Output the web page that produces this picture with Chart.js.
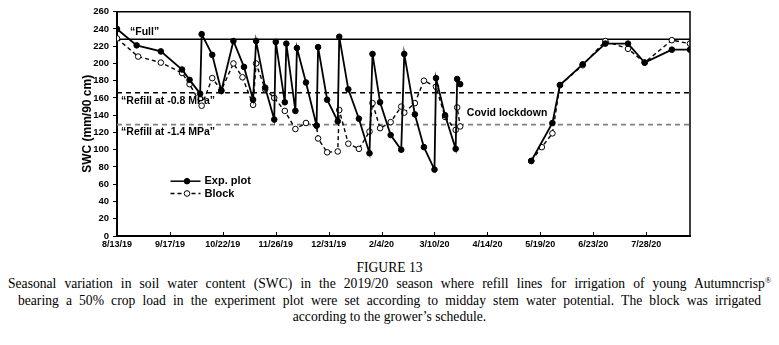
<!DOCTYPE html>
<html><head><meta charset="utf-8">
<script src="https://cdn.jsdelivr.net/npm/chart.js@4.4.0/dist/chart.umd.min.js"></script>
<style>
html,body{margin:0;padding:0;background:#fff;}
#wrap{position:relative;width:779px;height:345px;overflow:hidden;}
canvas{display:block;}
#cap{font-family:"Liberation Serif","Times New Roman",serif;font-size:13.6px;color:#000;line-height:16.4px;margin-top:8px;}
#cap .c{text-align:center;white-space:nowrap;}
#cap .j{text-align:justify;text-align-last:justify;padding:0 8px;white-space:nowrap;}
#cap .j2{text-align:justify;text-align-last:justify;padding:0 18px;white-space:nowrap;}
sup{font-size:8px;line-height:0;vertical-align:5px;}
</style></head><body>
<div id="wrap">
<canvas id="c" width="779" height="252"></canvas>
<div id="cap">
<div class="c">FIGURE 13</div>
<div class="j">Seasonal variation in soil water content (SWC) in the 2019/20 season where refill lines for irrigation of young Autumncrisp<sup>®</sup></div>
<div class="j2">bearing a 50% crop load in the experiment plot were set according to midday stem water potential. The block was irrigated</div>
<div class="c">according to the grower’s schedule.</div>
</div>
</div>
<script>
// ---- data ----
const xTickLabels = ['8/13/19','9/17/19','10/22/19','11/26/19','12/31/19','2/4/20','3/10/20','4/14/20','5/19/20','6/23/20','7/28/20'];
const yTicks = [0,20,40,60,80,100,120,140,160,180,200,220,240,260];
const expDates = ['8/13/19','8/26/19','9/11/19','9/25/19','9/30/19','10/7/19','10/8/19','10/15/19','10/21/19','10/29/19','11/5/19','11/11/19','11/13/19','11/19/19','11/25/19','11/26/19','12/2/19','12/3/19','12/9/19','12/10/19','12/16/19','12/23/19','12/24/19','12/30/19','1/6/20','1/7/20','1/13/20','1/20/20','1/27/20','1/29/20','2/3/20','2/10/20','2/17/20','2/19/20','2/26/20','3/3/20','3/10/20','3/11/20','3/17/20','3/24/20','3/25/20','3/27/20','4/20/20','5/13/20','5/27/20','6/1/20','6/16/20','7/1/20','7/16/20','7/27/20','8/14/20','8/26/20'];
const expSWC = [240,221,214,193,181,165,234,210,168,226,196,158,226,172,135,225,155,223,145,218,178,128,219,158,133,231,170,136,96,211,155,117,100,211,141,103,77,183,140,101,182,176,null,87,131,175,199,223,223,201,216,216];
const blockDates = ['8/13/19','8/27/19','9/11/19','9/25/19','9/30/19','10/8/19','10/15/19','10/21/19','10/29/19','11/4/19','11/11/19','11/13/19','11/19/19','11/25/19','12/2/19','12/9/19','12/16/19','12/23/19','12/24/19','12/30/19','1/6/20','1/7/20','1/13/20','1/20/20','1/27/20','1/29/20','2/3/20','2/10/20','2/17/20','2/19/20','2/26/20','3/3/20','3/11/20','3/17/20','3/24/20','3/25/20','3/27/20','4/20/20','5/13/20','5/20/20','5/27/20','6/1/20','6/16/20','7/1/20','7/16/20','7/27/20','8/14/20','8/26/20'];
const blockSWC = [229,208,201,189,176,151,183,169,200,184,152,200,170,160,145,124,131,128,113,97,98,146,107,101,121,154,125,132,150,143,154,180,173,138,123,149,127,null,87,103,119,175,198,226,217,201,227,223];
const fullLevel = 228, refill08Level = 166, refill14Level = 129;
const xStart = '8/13/19', xEnd = '8/26/20', xStepDays = 35;

// ---- helpers ----
function toDay(s){const [m,d,y]=s.split('/').map(Number);return (Date.UTC(2000+y,m-1,d)-Date.UTC(2019,7,13))/86400000;}
const pts=(ds,vs)=>ds.map((d,i)=>({x:toDay(d),y:vs[i]}));
const x0=toDay(xStart), x1=toDay(xEnd);
const hline=v=>[{x:x0,y:v},{x:x1,y:v}];

const annotations=[
 {text:'\u201cFull\u201d',x:8.6,y:236.5,align:'left'},
 {text:'\u201cRefill at -0.8 MPa\u201d',x:2.7,y:156.5,align:'left'},
 {text:'\u201cRefill at -1.4 MPa\u201d',x:2.7,y:120.5,align:'left'},
 {text:'Covid lockdown',x:258,y:142.5,align:'center'}
];
const FONT='"Liberation Sans", Arial, sans-serif';

const extras={id:'extras',
 afterDatasetsDraw(chart){
  const {ctx,chartArea:a,scales:{x,y}}=chart;
  ctx.save();
  ctx.strokeStyle='#000';ctx.lineWidth=1.5;
  ctx.beginPath();ctx.moveTo(a.left,a.top);ctx.lineTo(a.right,a.top);ctx.lineTo(a.right,a.bottom);ctx.stroke();
  ctx.lineWidth=1;
  x.ticks.forEach(t=>{const px=Math.round(x.getPixelForValue(t.value))+0.5;ctx.beginPath();ctx.moveTo(px,a.bottom);ctx.lineTo(px,a.bottom-4);ctx.stroke();});
  ctx.fillStyle='#000';ctx.font='bold 10.5px '+FONT;ctx.textBaseline='middle';
  annotations.forEach(n=>{ctx.textAlign=n.align;ctx.fillText(n.text,x.getPixelForValue(n.x),y.getPixelForValue(n.y));});
  const items=[{label:'Exp. plot',ds:chart.data.datasets[0]},{label:'Block',ds:chart.data.datasets[1]}];
  items.forEach((it,i)=>{
    const ly=a.top+169.5+i*12.3, lx=a.left+53.5;
    ctx.strokeStyle='#000';ctx.lineWidth=1.5;ctx.setLineDash(it.ds.borderDash||[]);
    ctx.beginPath();ctx.moveTo(lx,ly);ctx.lineTo(lx+30,ly);ctx.stroke();ctx.setLineDash([]);
    ctx.beginPath();ctx.arc(lx+16.5,ly,it.ds.pointRadius,0,Math.PI*2);ctx.fillStyle=it.ds.pointBackgroundColor;ctx.fill();ctx.lineWidth=1;ctx.stroke();
    ctx.fillStyle='#000';ctx.font='bold 11px '+FONT;ctx.textAlign='left';ctx.fillText(it.label,lx+34,ly);
  });
  ctx.restore();
 }};

new Chart(document.getElementById('c'),{
 type:'line',
 data:{datasets:[
  {label:'Exp. plot',data:pts(expDates,expSWC),borderColor:'#000',borderWidth:1.8,pointRadius:2.8,pointBackgroundColor:'#000',pointBorderColor:'#000',pointBorderWidth:1,spanGaps:false,tension:0},
  {label:'Block',data:pts(blockDates,blockSWC),borderColor:'#000',borderWidth:1.4,borderDash:[4,3],pointRadius:2.8,pointBackgroundColor:'#fff',pointBorderColor:'#000',pointBorderWidth:1,spanGaps:false,tension:0},
  {label:'Full',data:hline(fullLevel),borderColor:'#000',borderWidth:1.5,pointRadius:0},
  {label:'Refill -0.8',data:hline(refill08Level),borderColor:'#000',borderWidth:1.5,borderDash:[5,4],pointRadius:0},
  {label:'Refill -1.4',data:hline(refill14Level),borderColor:'#808080',borderWidth:1.8,borderDash:[5,4],pointRadius:0}
 ]},
 options:{responsive:false,animation:false,devicePixelRatio:1,
  layout:{padding:{left:80,right:89,top:11.7,bottom:0}},
  plugins:{legend:{display:false},tooltip:{enabled:false}},
  scales:{
   x:{type:'linear',min:x0,max:x1,
    afterBuildTicks(s){s.ticks=xTickLabels.map((l,i)=>({value:i*xStepDays}));},
    afterFit(s){s.height=16;},
    ticks:{callback:(v)=>xTickLabels[Math.round(v/xStepDays)],maxRotation:0,autoSkip:false,padding:3,color:'#000',font:{family:FONT,weight:'bold',size:9}},
    grid:{drawOnChartArea:false,drawTicks:false},
    border:{color:'#000',width:2}},
   y:{min:0,max:260,
    afterBuildTicks(s){s.ticks=yTicks.map(v=>({value:v}));},
    afterFit(s){s.width=37;},
    ticks:{padding:4,color:'#000',font:{family:FONT,weight:'bold',size:9.5}},
    grid:{drawOnChartArea:false,drawTicks:true,tickLength:4,color:'#000'},
    border:{color:'#000',width:2},
    title:{display:true,text:'SWC (mm/90 cm)',color:'#000',font:{family:FONT,weight:'bold',size:12},padding:{top:0,bottom:0}}}
  }},
 plugins:[extras]
});
</script>
</body></html>
